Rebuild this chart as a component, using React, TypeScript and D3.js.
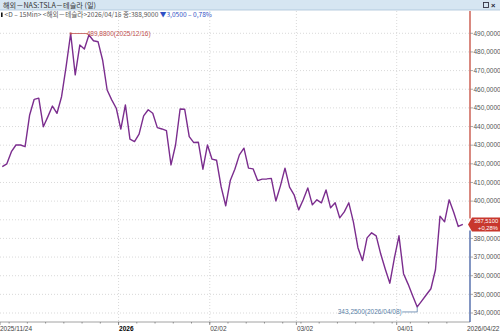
import React from 'react';
import * as d3 from 'd3';

const dates = [
  '2025/11/24','2025/11/25','2025/11/26','2025/11/28',
  '2025/12/01','2025/12/02','2025/12/03','2025/12/04','2025/12/05',
  '2025/12/08','2025/12/09','2025/12/10','2025/12/11','2025/12/12',
  '2025/12/15','2025/12/16','2025/12/17','2025/12/18','2025/12/19',
  '2025/12/22','2025/12/23','2025/12/24','2025/12/26',
  '2025/12/29','2025/12/30','2025/12/31',
  '2026/01/02','2026/01/05','2026/01/06','2026/01/07','2026/01/08','2026/01/09',
  '2026/01/12','2026/01/13','2026/01/14','2026/01/15','2026/01/16',
  '2026/01/20','2026/01/21','2026/01/22','2026/01/23',
  '2026/01/26','2026/01/27','2026/01/28','2026/01/29','2026/01/30',
  '2026/02/02','2026/02/03','2026/02/04','2026/02/05','2026/02/06',
  '2026/02/09','2026/02/10','2026/02/11','2026/02/12','2026/02/13',
  '2026/02/17','2026/02/18','2026/02/19','2026/02/20',
  '2026/02/23','2026/02/24','2026/02/25','2026/02/26','2026/02/27',
  '2026/03/02','2026/03/03','2026/03/04','2026/03/05','2026/03/06',
  '2026/03/09','2026/03/10','2026/03/11','2026/03/12','2026/03/13',
  '2026/03/16','2026/03/17','2026/03/18','2026/03/19','2026/03/20',
  '2026/03/23','2026/03/24','2026/03/25','2026/03/26','2026/03/27',
  '2026/03/30','2026/03/31',
  '2026/04/01','2026/04/02',
  '2026/04/06','2026/04/07','2026/04/08','2026/04/09','2026/04/10',
  '2026/04/13','2026/04/14','2026/04/15','2026/04/16','2026/04/17',
  '2026/04/20','2026/04/21','2026/04/22',
];

const closes = [
  418.5, 420.0, 426.5, 430.1,
  430.1, 429.2, 446.2, 454.6, 455.2,
  439.9, 445.3, 451.0, 447.1, 456.0,
  472.1, 489.88, 467.7, 483.7, 481.6,
  489.1, 486.0, 485.5, 475.7,
  459.6, 454.3, 449.8,
  438.6, 451.6, 433.2, 431.9, 435.9, 445.7,
  449.0, 447.1, 439.4, 438.7, 437.8,
  419.4, 430.1, 449.4, 449.3,
  434.6, 431.4, 431.6, 417.1, 430.1,
  422.5, 421.9, 407.6, 397.5, 411.0,
  417.1, 424.8, 428.4, 417.7, 417.3,
  411.0, 411.8, 411.9, 412.2,
  400.1, 408.2, 417.7, 407.5, 403.4,
  395.3, 400.7, 407.1, 398.0, 400.7,
  399.1, 406.0, 396.4, 399.1, 391.0,
  394.2, 399.1, 388.9, 375.0, 368.1,
  380.3, 383.0, 381.4, 371.6, 363.5,
  356.0, 369.6,
  381.4, 361.1,
  355.5, 349.2, 343.25, 346.5, 349.8,
  353.0, 363.2, 391.95, 388.9, 400.7,
  394.0, 386.43, 387.51,
];

const yTicks = [340, 350, 360, 370, 380, 390, 400, 410, 420, 430, 440, 450, 460, 470, 480, 490];
const xLabelDates = ['2025/11/24', '2026/01/02', '2026/02/02', '2026/03/02', '2026/04/01'];
const xLabelTexts = ['2025/11/24', '2026', '02/02', '03/02', '04/01'];
const endLabel = '2026/04/22';
const titleText = '해외－NAS:TSLA－테슬라 (일)';
const cursorDate = '2026/04/16';

const W = 500;
const H = 332;
const plotLeft = 0;
const plotRight = 470;
const plotTop = 11;
const plotBottom = 322;

const fmt4 = (v: number) => d3.format('.4f')(v).replace('.', ',');
const fmt2 = (v: number) => d3.format('.2f')(v).replace('.', ',');

export default function App() {
  const x = d3.scaleBand<string>().domain(dates).range([0, 465.1]).paddingInner(0).paddingOuter(0);
  const bw = x.bandwidth();
  const cx = (d: string) => (x(d) as number) + bw / 2;
  const y = d3.scaleLinear().domain([340, 490]).range([313, 33.3]);

  const data = dates.map((d, i) => ({ d, v: closes[i] }));
  const line = d3.line<{ d: string; v: number }>().x(p => cx(p.d)).y(p => y(p.v));

  const maxI = d3.maxIndex(closes);
  const minI = d3.minIndex(closes);
  const maxX = cx(dates[maxI]);
  const maxY = y(closes[maxI]);
  const minX = cx(dates[minI]);
  const minY = y(closes[minI]);

  const last = closes[closes.length - 1];
  const prev = closes[closes.length - 2];
  const lastPct = ((last - prev) / prev) * 100;
  const ly = y(last);

  const ci = dates.indexOf(cursorDate);
  const cClose = closes[ci];
  const cChg = cClose - closes[ci - 1];
  const cPct = (cChg / closes[ci - 1]) * 100;

  const minorTicks = dates.filter((_, i) => i % 4 === 2);
  const font = "'Liberation Sans', Arial, sans-serif";
  const kfont = "'Noto Sans CJK KR', 'Liberation Sans', sans-serif";

  return (
    <svg width={W} height={H} style={{ position: 'fixed', left: 0, top: 0, background: '#fff' }}>
      {/* header */}
      <rect x={0} y={0} width={W} height={10} fill="#d6e6f2" />
      <line x1={0} x2={W} y1={10} y2={10} stroke="#a8c2d8" strokeWidth={0.8} />
      <text x={3} y={8} fontFamily={kfont} fontSize={7.2} fill="#333">{titleText}</text>
      <rect x={483.5} y={2.5} width={5} height={5} fill="none" stroke="#334" strokeWidth={0.9} />
      <text x={491} y={8} fontFamily={font} fontSize={7.5} fill="#223" fontWeight="bold">×</text>

      {/* info line */}
      <rect x={1} y={12.5} width={1.6} height={4.5} fill="#111" />
      <text x={4.5} y={17} fontFamily={kfont} fontSize={6.6} fill="#555">
        <tspan>{`<D – 15Min> <해외－테슬라>${cursorDate} 종:${fmt4(cClose)} `}</tspan>
        <tspan fill="#2f4fc4">{`${cChg < 0 ? '▼' : '▲'}${fmt4(Math.abs(cChg))} – ${fmt2(Math.abs(cPct))}%`}</tspan>
      </text>

      {/* grid */}
      {yTicks.map(t => (
        <line key={'hg' + t} x1={plotLeft} x2={plotRight} y1={y(t)} y2={y(t)} stroke="#cfcfcf" strokeWidth={0.8} strokeDasharray="1,2" />
      ))}
      {xLabelDates.slice(1).map(d => (
        <line key={'vg' + d} x1={x(d) as number} x2={x(d) as number} y1={plotTop} y2={plotBottom} stroke="#cfcfcf" strokeWidth={0.8} strokeDasharray="1,2" />
      ))}

      {/* price line */}
      <path d={line(data) || ''} fill="none" stroke="#7b2d8e" strokeWidth={1.4} strokeLinejoin="round" />

      {/* max annotation */}
      <line x1={maxX} x2={maxX + 17} y1={maxY} y2={maxY} stroke="#c0504d" strokeWidth={0.8} />
      <rect x={maxX - 1} y={maxY - 1} width={2} height={2} fill="#c0504d" />
      <text x={maxX + 16} y={maxY + 2.3} fontFamily={font} fontSize={6.5} fill="#c0504d">
        {`${fmt4(closes[maxI])}(${dates[maxI]})`}
      </text>

      {/* min annotation */}
      <polyline points={`${minX},${minY} ${minX},${minY + 5} ${minX - 15},${minY + 5}`} fill="none" stroke="#5a7fa8" strokeWidth={0.8} />
      <text x={minX - 15.5} y={minY + 7.3} textAnchor="end" fontFamily={font} fontSize={6.5} fill="#5a7fa8">
        {`${fmt4(closes[minI])}(${dates[minI]})`}
      </text>

      {/* bottom axis */}
      <line x1={plotLeft} x2={plotRight} y1={plotBottom} y2={plotBottom} stroke="#8a8a8a" strokeWidth={0.8} />
      {minorTicks.map(d => (
        <line key={'mt' + d} x1={x(d) as number} x2={x(d) as number} y1={plotBottom} y2={plotBottom + 1.5} stroke="#777" strokeWidth={0.8} />
      ))}
      {xLabelDates.map((d, i) => (
        <g key={'xl' + d}>
          <line x1={x(d) as number} x2={x(d) as number} y1={plotBottom} y2={plotBottom + 3} stroke="#777" strokeWidth={0.8} />
          <text x={(x(d) as number) + (i === 0 ? 0 : 0.5)} y={330.5} fontFamily={font} fontSize={6.5}
            fill={i === 1 ? '#000' : '#444'} fontWeight={i === 1 ? 'bold' : 'normal'}>{xLabelTexts[i]}</text>
        </g>
      ))}
      <text x={499.5} y={330.5} textAnchor="end" fontFamily={font} fontSize={6.5} fill="#444">{endLabel}</text>

      {/* right axis */}
      <line x1={plotRight} x2={plotRight} y1={plotTop} y2={ly - 6} stroke="#c0392b" strokeWidth={1.2} />
      <line x1={plotRight} x2={plotRight} y1={ly + 6} y2={plotBottom} stroke="#2f4f9a" strokeWidth={1.2} />
      {yTicks.filter(t => Math.abs(y(t) - ly) > 9).map(t => (
        <g key={'yt' + t}>
          <line x1={plotRight} x2={plotRight + 3} y1={y(t)} y2={y(t)} stroke="#888" strokeWidth={0.7} />
          <text x={plotRight + 3.5} y={y(t) + 2.3} fontFamily={font} fontSize={6.5} fill="#555">{fmt4(t)}</text>
        </g>
      ))}

      {/* last price tag */}
      <path d={`M${plotRight - 2},${ly} L${plotRight + 2},${ly - 7} L${W},${ly - 7} L${W},${ly + 7} L${plotRight + 2},${ly + 7} Z`} fill="#c8372d" />
      <text x={plotRight + 4} y={ly - 1.2} fontFamily={font} fontSize={5.8} fill="#fff">{fmt4(last)}</text>
      <text x={plotRight + 8} y={ly + 5.6} fontFamily={font} fontSize={5.8} fill="#fff">{`${lastPct >= 0 ? '+' : '-'}${fmt2(Math.abs(lastPct))}%`}</text>
    </svg>
  );
}
